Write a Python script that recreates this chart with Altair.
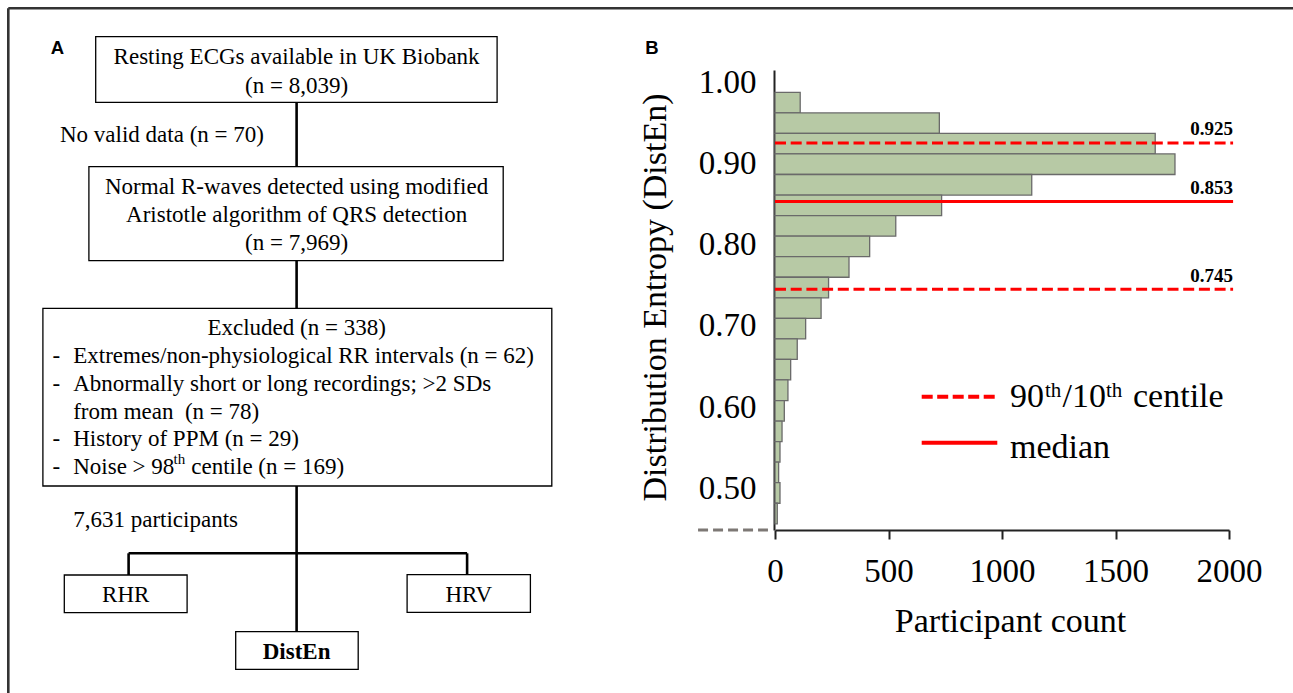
import altair as alt
import pandas as pd

SERIF = "Liberation Serif"
SANS = "Liberation Sans"

# ---------------- Panel B values ----------------
bin_edges = [0.9873, 0.9620, 0.9367, 0.9115, 0.8862, 0.8609, 0.8356, 0.8103, 0.7851,
             0.7598, 0.7345, 0.7092, 0.6839, 0.6587, 0.6334, 0.6081, 0.5828, 0.5575,
             0.5323, 0.5070, 0.4817, 0.4564]
counts = [111, 724, 1675, 1762, 1131, 734, 532, 417, 326, 236, 203, 135, 98, 69, 57,
          41, 31, 22, 16, 22, 10]
ref_values = [0.925, 0.853, 0.745]
ref_labels = ["0.925", "0.853", "0.745"]
ref_kinds = ["centile", "median", "centile"]
y_ticks = [0.5, 0.6, 0.7, 0.8, 0.9, 1.0]
x_ticks = [0, 500, 1000, 1500, 2000]

# ---------------- Panel A texts ----------------
box1_lines = ["Resting ECGs available in UK Biobank", "(n = 8,039)"]
box2_lines = ["Normal R-waves detected using modified", "Aristotle algorithm of QRS detection", "(n = 7,969)"]
box3_title = "Excluded (n = 338)"
box3_lines = ["Extremes/non-physiological RR intervals (n = 62)",
              "Abnormally short or long recordings; >2 SDs",
              "from mean\u00a0 (n = 78)",
              "History of PPM (n = 29)",
              "Noise > 98"]
noise_tail = "centile (n = 169)"
side_notes = ["No valid data (n = 70)", "7,631 participants"]
leaf_labels = ["RHR", "HRV"]
leaf_bold = "DistEn"

# ---------------- layout (canvas units) ----------------
CX = 296.6
frame = pd.DataFrame({"x1": [8.3, 8.3], "y1": [8.3, 8.3], "x2": [8.3, 1293], "y2": [693, 8.3]})
links = pd.DataFrame({"x1": [CX, CX, CX, 128.6, 128.6, 467.1],
                      "y1": [102.3, 260.7, 486, 553.3, 553.3, 553.3],
                      "x2": [CX, CX, CX, 467.1, 128.6, 467.1],
                      "y2": [166.7, 308.3, 631.7, 553.3, 575, 575]})
boxes = pd.DataFrame({"x1": [95.7, 88.9, 42.9, 64.3, 407.1, 235.7],
                      "y1": [36.7, 166.7, 308.3, 575, 574.7, 631.7],
                      "x2": [497.1, 503.2, 551.8, 187.1, 530.4, 358.2],
                      "y2": [102.3, 260.7, 486, 612.7, 612.3, 669.3]})

center_df = pd.DataFrame({
    "t": box1_lines + box2_lines + [box3_title] + leaf_labels,
    "x": [CX, CX, CX, CX, CX, CX, 125.7, 468.8],
    "y": [56.7, 86, 186.7, 215, 243.3, 328.3, 595, 595]})
left_df = pd.DataFrame({
    "t": box3_lines + side_notes + [noise_tail],
    "x": [73.2, 73.2, 73.2, 73.2, 73.2, 60, 73.2, 191.3],
    "y": [355.7, 384.3, 411.7, 439, 466.7, 135, 520, 466.7]})
dash_df = pd.DataFrame({"t": ["-"] * 4, "x": [52.5] * 4, "y": [355.7, 384.3, 439, 466.7]})
sup_df = pd.DataFrame({"t": ["th"], "x": [173.5], "y": [459]})
bold_df = pd.DataFrame({"t": [leaf_bold], "x": [CX], "y": [651.7]})
panel_df = pd.DataFrame({"t": ["A", "B"], "x": [57.5, 652], "y": [48, 47.5]})

# legend (canvas units)
leg_lines = pd.DataFrame({"x1": [921.7, 921.7], "x2": [997.3, 997.3], "y": [396.7, 442.7],
                          "kind": ["centile", "median"]})
leg_big = pd.DataFrame({"t": ["90", "/10", "centile", "median"],
                        "x": [1010, 1062.5, 1133, 1010], "y": [406.7, 406.7, 406.7, 458]})
leg_sup = pd.DataFrame({"t": ["th", "th"], "x": [1045, 1106], "y": [397, 397]})

fxs = alt.Scale(domain=[0, 1293], range=[0, 1293], nice=False, zero=False)
fys = alt.Scale(domain=[0, 693], range=[0, 693], nice=False, zero=False)


def fx(f):
    return alt.X(f, type="quantitative", scale=fxs, axis=None)


def fy(f):
    return alt.Y(f, type="quantitative", scale=fys, axis=None)


def text_layer(df, size, align="center", weight="normal", font=SERIF, baseline="middle"):
    return alt.Chart(df).mark_text(font=font, fontSize=size, align=align, baseline=baseline,
                                   fontWeight=weight, color="black").encode(
        x=fx("x"), y=fy("y"), text="t:N")


frame_l = alt.Chart(frame).mark_rule(color="#333333", strokeWidth=2.6).encode(
    x=fx("x1"), y=fy("y1"), x2="x2:Q", y2="y2:Q")
links_l = alt.Chart(links).mark_rule(color="black", strokeWidth=2.6).encode(
    x=fx("x1"), y=fy("y1"), x2="x2:Q", y2="y2:Q")
boxes_l = alt.Chart(boxes).mark_rect(fill="white", stroke="black", strokeWidth=1.3).encode(
    x=fx("x1"), y=fy("y1"), x2="x2:Q", y2="y2:Q")

leg_dash = alt.Chart(leg_lines).transform_filter(alt.datum.kind == "centile").mark_rule(
    color="#ff0000", strokeWidth=4, strokeDash=[11, 4.5]).encode(
    x=fx("x1"), x2="x2:Q", y=fy("y"))
leg_solid = alt.Chart(leg_lines).transform_filter(alt.datum.kind == "median").mark_rule(
    color="#ff0000", strokeWidth=4).encode(x=fx("x1"), x2="x2:Q", y=fy("y"))

FS = 23
flow = alt.layer(
    frame_l, links_l, boxes_l,
    text_layer(center_df, FS),
    text_layer(left_df, FS, align="left"),
    text_layer(dash_df, FS, align="left"),
    text_layer(sup_df, 15, align="left"),
    text_layer(bold_df, FS, weight="bold"),
    text_layer(panel_df, 18.5, weight="bold", font=SANS),
    leg_dash, leg_solid,
    text_layer(leg_big, 34, align="left", baseline="alphabetic"),
    text_layer(leg_sup, 21, align="left", baseline="alphabetic"),
)

# ---------------- Panel B chart ----------------
hist_df = pd.DataFrame({"hi": bin_edges[:-1], "lo": bin_edges[1:], "count": counts,
                        "zero": [0] * len(counts)})
ref_df = pd.DataFrame({"v": ref_values, "label": ref_labels, "kind": ref_kinds,
                       "start": [0] * 3, "end": [2018] * 3})
stub_df = pd.DataFrame({"a": [-339], "b": [-31], "v": [0.4488]})

xs = alt.Scale(domain=[0, 2000], range=[775, 1229], nice=False, zero=False)
ys = alt.Scale(domain=[0.4488, 1.0148], range=[530, 70], nice=False, zero=False)

x_axis = alt.Axis(orient="bottom", offset=-163, values=x_ticks, format="d",
                  title="Participant count",
                  grid=False, domainColor="#222222", domainWidth=2, tickColor="#222222",
                  tickWidth=2, tickSize=9, labelFont=SERIF, labelFontSize=33,
                  labelColor="black", labelBaseline="alphabetic", labelPadding=42.7,
                  labelFlush=False, labelOverlap=False, titleFont=SERIF, titleFontSize=34,
                  titleFontWeight="normal", titleColor="black", titleX=1010, titleY=101.7,
                  titleBaseline="alphabetic", titleAlign="center")
y_axis = alt.Axis(orient="left", offset=-774, values=y_ticks, format=".2f",
                  title="Distribution Entropy (DistEn)", grid=False, ticks=False,
                  domainColor="#222222", domainWidth=2, labelFont=SERIF, labelFontSize=33,
                  labelColor="black", labelPadding=18, labelFlush=False, labelOverlap=False,
                  titleFont=SERIF, titleFontSize=34, titleFontWeight="normal",
                  titleColor="black", titleX=-119, titleY=297, titleAngle=270,
                  titleBaseline="middle", titleAlign="center")


def hx(f):
    return alt.X(f, type="quantitative", scale=xs, axis=x_axis)


def hy(f):
    return alt.Y(f, type="quantitative", scale=ys, axis=y_axis)


bars = alt.Chart(hist_df).mark_rect(fill="#b7c9a5", stroke="#6a6a6a", strokeWidth=1.3).encode(
    x=hx("zero"), x2="count:Q", y=hy("lo"), y2="hi:Q")
ref_dash = alt.Chart(ref_df).transform_filter(alt.datum.kind == "centile").mark_rule(
    color="#ff0000", strokeWidth=3, strokeDash=[11, 4.7]).encode(
    x=hx("start"), x2="end:Q", y=hy("v"))
ref_solid = alt.Chart(ref_df).transform_filter(alt.datum.kind == "median").mark_rule(
    color="#ff0000", strokeWidth=3).encode(x=hx("start"), x2="end:Q", y=hy("v"))
ref_text = alt.Chart(ref_df).mark_text(font=SERIF, fontSize=19, fontWeight="bold",
                                       align="right", baseline="alphabetic", dy=-7.5,
                                       color="black").encode(
    x=hx("end"), y=hy("v"), text="label:N")
stub = alt.Chart(stub_df).mark_rule(color="#7d7875", strokeWidth=3, strokeDash=[10, 5]).encode(
    x=hx("a"), x2="b:Q", y=hy("v"))

hist = alt.layer(bars, ref_dash, ref_solid, ref_text, stub)

chart = alt.layer(flow, hist).resolve_scale(
    x="independent", y="independent").properties(
    width=1293, height=693,
    autosize=alt.AutoSizeParams(type="none", contains="padding"),
    padding=0, background="white").configure_view(stroke=None)

chart.save("out.html", embed_options={"renderer": "svg", "actions": False})
